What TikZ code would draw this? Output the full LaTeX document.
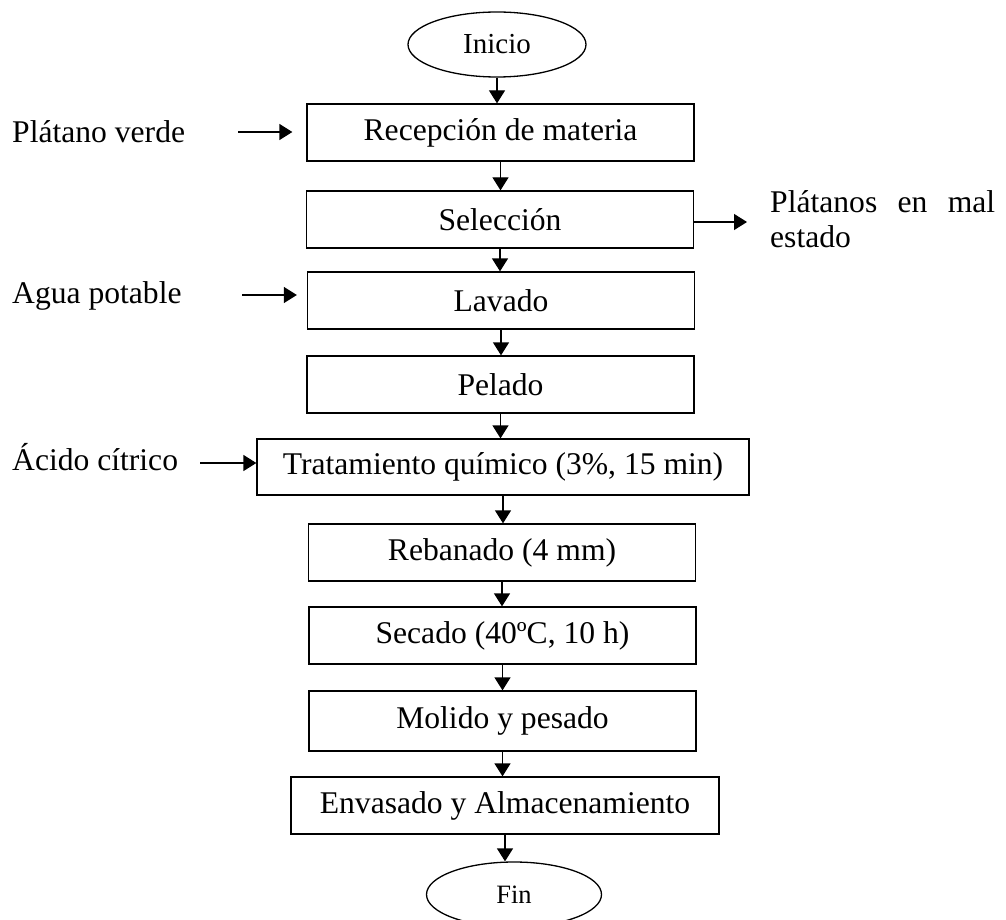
\documentclass[tikz,border=0pt]{standalone}
\usepackage{fontspec}
\setmainfont{Liberation Serif}
\usetikzlibrary{shapes.geometric,arrows.meta}

\begin{document}
\begin{tikzpicture}[x=1pt,y=-1pt,
	proc/.style={draw,line width=1.3pt,minimum width=387pt,minimum height=57pt,
		inner sep=0pt,font=\fontsize{31.6}{36}\selectfont},
	term/.style={draw,ellipse,line width=1.3pt,minimum width=178pt,
		minimum height=65pt,inner sep=0pt},
	lbl/.style={anchor=base west,inner sep=0pt,font=\fontsize{31.6}{36}\selectfont},
	flow/.style={-{Triangle[length=13pt,width=16pt]},line width=1.3pt}]
	\useasboundingbox (0,0) rectangle (1006,920);

	% main line
	\node[term,font=\fontsize{29}{34}\selectfont] (ini) at (497,44.5) {Inicio};
	\node[proc] (rec) at (500.5,132.5) {Recepción de materia};
	\node[proc] (sel) at (500,219.5) {Selección};
	\node[proc] (lav) at (501,300.5) {Lavado};
	\node[proc] (pel) at (500.5,384.5) {Pelado};
	\node[proc,minimum width=492pt,minimum height=56pt] (tra) at (503,467)
		{Tratamiento químico (3\%, 15 min)};
	\node[proc] (reb) at (502,552.5) {Rebanado (4 mm)};
	\node[proc] (sec) at (502.5,635.5) {Secado (40ºC, 10 h)};
	\node[proc,minimum height=60pt] (mol) at (502.5,721) {Molido y pesado};
	\node[proc,minimum width=428pt] (env) at (505,805.5) {Envasado y Almacenamiento};
	\node[term,minimum width=175pt,font=\fontsize{26.5}{31}\selectfont] (fin) at (514,894.5) {Fin};

	\foreach \a/\b in {ini/rec,rec/sel,sel/lav,lav/pel,pel/tra,tra/reb,reb/sec,
		sec/mol,mol/env,env/fin}
		\draw[flow] (\a.south) -- (\a.south |- \b.north);

	% inputs and outputs
	\node[lbl] (pv) at (12,143) {Plátano verde};
	\node[lbl] (agua) at (12,303) {Agua potable};
	\node[lbl] (acido) at (12,470) {Ácido cítrico};
	\node[anchor=base west,inner sep=0pt,text width=225pt,align=justify,
		font=\fontsize{31.6}{35}\selectfont] (mal) at (770,212)
		{\hyphenpenalty=10000 Plátanos en mal estado};

	\coordinate (pv0) at (238,132);
	\coordinate (agua0) at (242,295);
	\coordinate (acido0) at (200,463);
	\coordinate (mal0) at (747,222);
	\draw[flow] (pv0) -- ([xshift=-14pt]pv0 -| rec.west);
	\draw[flow] (agua0) -- ([xshift=-10pt]agua0 -| lav.west);
	\draw[flow] (acido0) -- (acido0 -| tra.west);
	\draw[flow] (mal0 -| sel.east) -- (mal0);
\end{tikzpicture}
\end{document}
